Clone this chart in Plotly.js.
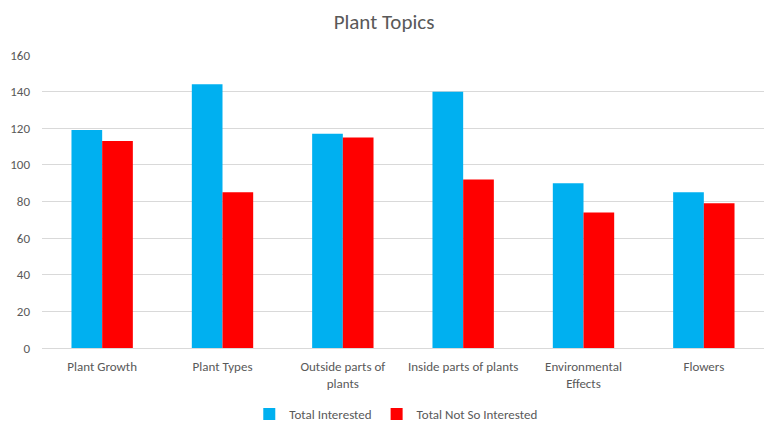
<!DOCTYPE html>
<html><head><meta charset="utf-8">
<script src="https://cdn.plot.ly/plotly-3.0.1.min.js"></script>
<style>html,body{margin:0;padding:0;background:#fff;}#chart{width:768px;height:434px;}</style>
</head><body><div id="chart"></div>
<script>
const categories = ["Plant Growth", "Plant Types", "Outside parts of<br>plants", "Inside parts of plants", "Environmental<br>Effects", "Flowers"];
const totalInterested = [119, 144, 117, 140, 90, 85];
const totalNotSoInterested = [113, 85, 115, 92, 74, 79];
const yTicks = [0, 20, 40, 60, 80, 100, 120, 140, 160];

const font = "Carlito, 'Liberation Sans Narrow', 'Open Sans', sans-serif";
const traces = [
  {type: 'bar', name: 'Total Interested', x: categories, y: totalInterested, marker: {color: '#00B0F0'}},
  {type: 'bar', name: 'Total Not So Interested', x: categories, y: totalNotSoInterested, marker: {color: '#FF0000'}}
];
const layout = {
  width: 768, height: 434,
  margin: {l: 42, r: 4, t: 55, b: 86},
  paper_bgcolor: '#fff', plot_bgcolor: '#fff',
  font: {family: font, size: 13, color: '#595959'},
  title: {text: 'Plant Topics', font: {family: font, size: 21, color: '#595959'}, x: 0.5, xanchor: 'center', y: 0.95, yanchor: 'middle'},
  barmode: 'group', bargap: 0.49, bargroupgap: 0,
  xaxis: {type: 'category', showgrid: false, showline: true, linecolor: '#d9d9d9', linewidth: 1, ticks: '', tickfont: {size: 13, color: '#595959'}, ticklabelstandoff: 6, automargin: false},
  yaxis: {range: [0, 160], tickvals: yTicks, showgrid: true, gridcolor: '#d9d9d9', zeroline: false, showline: false, ticks: '', tickfont: {size: 13, color: '#595959'}, ticklabelstandoff: 11, automargin: false},
  legend: {orientation: 'h', x: 0.49, xanchor: 'center', y: -0.225, yanchor: 'middle', font: {size: 13, color: '#595959'}, itemwidth: 30, traceorder: 'normal'},
  showlegend: true
};
Plotly.newPlot('chart', traces, layout, {displayModeBar: false, staticPlot: true});
</script></body></html>
